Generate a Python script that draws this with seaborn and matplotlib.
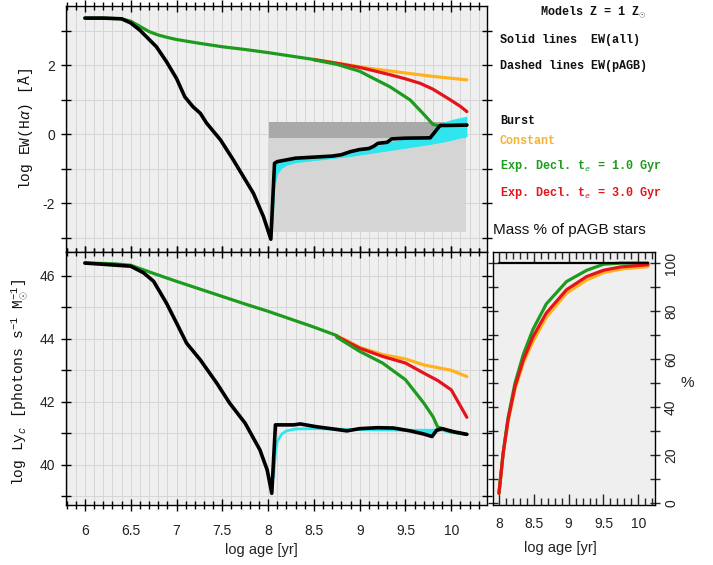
import numpy as np
import matplotlib
matplotlib.use("Agg")
import matplotlib.pyplot as plt
import seaborn as sns
from matplotlib.ticker import MultipleLocator, FuncFormatter

sns.set_theme(style="white")
plt.rcParams['font.family'] = ['Liberation Sans', 'DejaVu Sans']
plt.rcParams['mathtext.fontset'] = 'custom'
plt.rcParams['mathtext.rm'] = 'Liberation Mono'
plt.rcParams['mathtext.it'] = 'Liberation Mono:italic'
plt.rcParams['mathtext.bf'] = 'Liberation Mono:bold'

# ---------------- data ----------------
# top panel: log EW(Halpha)
ew_common_age = [6.0, 6.2, 6.4, 6.5, 6.6, 6.7, 6.8, 6.9, 7.0, 7.25, 7.5, 7.75, 8.0, 8.25, 8.5]
ew_common = [3.36, 3.36, 3.34, 3.27, 3.12, 2.97, 2.87, 2.80, 2.74, 2.63, 2.53, 2.45, 2.36, 2.26, 2.16]

ew_const_age = [8.5, 8.75, 9.0, 9.115, 9.5, 9.8, 10.17]
ew_const = [2.16, 2.06, 1.95, 1.90, 1.77, 1.67, 1.57]
ew_exp3_age = [8.5, 8.75, 9.0, 9.115, 9.33, 9.5, 9.66, 9.8, 9.99, 10.1, 10.17]
ew_exp3 = [2.16, 2.05, 1.93, 1.86, 1.72, 1.60, 1.47, 1.30, 0.99, 0.80, 0.65]
ew_exp1_age = [8.5, 8.75, 9.0, 9.115, 9.33, 9.55, 9.69, 9.8, 9.86, 10.0, 10.17]
ew_exp1 = [2.15, 2.02, 1.82, 1.66, 1.37, 0.99, 0.60, 0.28, 0.24, 0.25, 0.26]

ew_burst_age = [6.0, 6.2, 6.4, 6.5, 6.6, 6.69, 6.78, 6.89, 7.0, 7.09, 7.18, 7.26, 7.33, 7.48,
                7.62, 7.84, 7.95, 8.03, 8.07, 8.1, 8.2, 8.3, 8.5, 8.7, 8.8, 8.9, 9.0, 9.1,
                9.15, 9.2, 9.3, 9.35, 9.5, 9.77, 9.86, 9.88, 10.0, 10.17]
ew_burst = [3.36, 3.36, 3.34, 3.22, 3.01, 2.77, 2.53, 2.10, 1.61, 1.08, 0.79, 0.60, 0.31, -0.17,
            -0.75, -1.72, -2.40, -3.05, -0.85, -0.80, -0.75, -0.70, -0.67, -0.64, -0.60, -0.51, -0.45, -0.42,
            -0.36, -0.27, -0.24, -0.14, -0.12, -0.11, 0.19, 0.25, 0.25, 0.26]

ew_pagb_age = [8.05, 8.07, 8.1, 8.15, 8.2, 8.3, 8.5, 8.7, 8.9, 9.1, 9.3, 9.5, 9.77, 9.83, 9.9, 10.0, 10.17]
ew_pagb_lo = [-2.6, -1.5, -1.15, -0.98, -0.9, -0.82, -0.76, -0.70, -0.64, -0.56, -0.48, -0.40, -0.29, -0.26, -0.23, -0.17, -0.06]
ew_pagb_hi = [-1.4, -0.88, -0.82, -0.78, -0.75, -0.71, -0.68, -0.64, -0.52, -0.42, -0.24, -0.13, -0.11, 0.31, 0.33, 0.42, 0.52]

band_age = [8.01, 10.16]
dark_band_lo = [-0.12, -0.12]
dark_band_hi = [0.36, 0.36]
light_box_lo = [-2.83, -2.83]
light_box_hi = [-0.12, -0.12]

# bottom panel: log Lyc
lyc_common_age = [6.0, 6.3, 6.5, 6.75, 7.0, 7.25, 7.5, 7.75, 8.0, 8.25, 8.5, 8.75]
lyc_common = [46.4, 46.38, 46.33, 46.07, 45.82, 45.58, 45.34, 45.1, 44.87, 44.62, 44.37, 44.1]
lyc_const_age = [8.75, 9.0, 9.25, 9.5, 9.7, 10.0, 10.17]
lyc_const = [44.1, 43.73, 43.5, 43.36, 43.17, 43.0, 42.8]
lyc_exp3_age = [8.75, 9.0, 9.25, 9.5, 9.7, 9.85, 10.0, 10.17]
lyc_exp3 = [44.08, 43.7, 43.44, 43.23, 42.91, 42.68, 42.38, 41.51]
lyc_exp1_age = [8.75, 9.0, 9.25, 9.5, 9.7, 9.8, 9.85, 9.9, 10.0, 10.17]
lyc_exp1 = [44.05, 43.6, 43.23, 42.7, 41.96, 41.53, 41.21, 41.15, 41.05, 40.97]

lyc_burst_age = [6.0, 6.5, 6.64, 6.75, 6.89, 7.0, 7.11, 7.26, 7.44, 7.58, 7.75, 7.91, 7.99, 8.04,
                 8.08, 8.28, 8.35, 8.53, 8.71, 8.86, 9.0, 9.19, 9.37, 9.55, 9.7, 9.79, 9.84,
                 9.9, 10.03, 10.17]
lyc_burst = [46.4, 46.3, 46.09, 45.82, 45.13, 44.5, 43.86, 43.33, 42.59, 41.96, 41.32, 40.48, 39.84, 39.1,
             41.27, 41.27, 41.3, 41.21, 41.14, 41.08, 41.15, 41.18, 41.17, 41.08, 40.98, 40.9, 41.1,
             41.15, 41.05, 40.97]

lyc_pagb_age = [8.06, 8.08, 8.1, 8.15, 8.2, 8.3, 8.5, 9.0, 9.5, 9.7, 9.8, 9.85, 9.9, 10.0, 10.17]
lyc_pagb = [39.6, 40.4, 40.75, 40.98, 41.08, 41.14, 41.15, 41.12, 41.1, 41.1, 41.1, 41.12, 41.1, 41.03, 40.97]
lyc_gap_age = [9.45, 9.55, 9.7, 9.79, 9.84, 9.9]
lyc_gap_lo = [41.1, 41.07, 40.98, 40.9, 41.05, 41.1]
lyc_gap_hi = [41.12, 41.12, 41.12, 41.12, 41.12, 41.12]

# right panel: mass % of pAGB stars
mass_age = [8.0, 8.06, 8.13, 8.23, 8.35, 8.49, 8.68, 8.97, 9.26, 9.5, 9.75, 10.14]
mass_const = [4.0, 20.5, 34.0, 47.5, 58.5, 67.5, 77.5, 87.5, 93.0, 96.0, 97.5, 98.5]
mass_exp3 = [4.2, 20.8, 34.7, 48.6, 59.7, 69.4, 79.2, 88.9, 94.4, 97.0, 98.4, 99.3]
mass_exp1 = [4.2, 21.0, 35.5, 50.0, 62.0, 72.5, 83.0, 92.3, 97.0, 99.5, 100.0, 100.0]
mass_burst_age = [8.0, 10.14]
mass_burst = [100.0, 100.0]

xticks_main = [6, 6.5, 7, 7.5, 8, 8.5, 9, 9.5, 10]
xticks_right = [8, 8.5, 9, 9.5, 10]

C_ORANGE = '#FFB21E'
C_GREEN = '#1E9A1E'
C_RED = '#E5141A'
C_CYAN = '#2FE6EE'
BG = '#efefef'
GRID = '#d6d6d6'

W, H = 713, 565
fig = plt.figure(figsize=(W / 100, H / 100), dpi=100)


def px_axes(x0, y0, x1, y1):
    return fig.add_axes([x0 / W, 1 - y1 / H, (x1 - x0) / W, (y1 - y0) / H])


ax1 = px_axes(65.7, 5.7, 487, 252)
ax2 = px_axes(65.7, 252, 487, 505)
ax3 = px_axes(492.7, 252, 655, 505)

fmt = FuncFormatter(lambda v, p: f"{v:g}")

for ax in (ax1, ax2, ax3):
    ax.set_facecolor(BG)
    for s in ax.spines.values():
        s.set_color('black')
        s.set_linewidth(1.0)
        s.set_zorder(10)

for ax in (ax1, ax2):
    ax.set_xlim(5.79, 10.39)
    ax.xaxis.set_major_locator(MultipleLocator(0.5))
    ax.xaxis.set_minor_locator(MultipleLocator(0.1))
    ax.yaxis.set_minor_locator(MultipleLocator(1))
    ax.grid(which='both', axis='x', color=GRID, lw=0.7)
    ax.grid(which='both', axis='y', color=GRID, lw=0.7)
    ax.set_axisbelow(True)
    ax.tick_params(axis='x', which='major', direction='inout', length=9, width=1,
                   top=True, bottom=True, colors='black')
    ax.tick_params(axis='x', which='minor', direction='inout', length=6, width=1,
                   top=True, bottom=True, colors='black')
    ax.tick_params(axis='y', which='both', direction='inout', length=7, width=1,
                   left=True, right=True, labelright=False, colors='black')
    ax.tick_params(axis='both', labelsize=10, labelcolor='#222222', pad=4)

ax1.set_ylim(-3.42, 3.72)
ax1.set_yticks([-2, 0, 2])
ax1.yaxis.set_major_formatter(fmt)
ax1.tick_params(axis='x', labelbottom=False)

ax2.set_ylim(38.73, 46.75)
ax2.set_yticks([40, 42, 44, 46])
ax2.set_xticks(xticks_main)
ax2.xaxis.set_major_formatter(fmt)
ax2.tick_params(axis='x', pad=9)

# ---- top panel ----
ax1.fill_between(band_age, light_box_lo, light_box_hi, color='#d5d5d5', lw=0, zorder=1)
ax1.fill_between(band_age, dark_band_lo, dark_band_hi, color='#a9a9a9', lw=0, zorder=1)
ax1.fill_between(ew_pagb_age, ew_pagb_lo, ew_pagb_hi, color=C_CYAN, lw=0, zorder=2)
ax1.plot(ew_pagb_age, ew_pagb_lo, color=C_CYAN, lw=1.2, zorder=2)

lw = 2.3
for a, v, c in [(ew_const_age, ew_const, C_ORANGE), (ew_exp3_age, ew_exp3, C_RED),
                (ew_common_age, ew_common, C_GREEN), (ew_exp1_age, ew_exp1, C_GREEN)]:
    sns.lineplot(x=a, y=v, ax=ax1, color=c, lw=lw, estimator=None, sort=False, zorder=3)
sns.lineplot(x=ew_burst_age, y=ew_burst, ax=ax1, color='black', lw=2.6, estimator=None,
             sort=False, zorder=4)

# ---- bottom panel ----
ax2.fill_between(lyc_gap_age, lyc_gap_lo, lyc_gap_hi, color=C_CYAN, lw=0, zorder=2)
sns.lineplot(x=lyc_pagb_age, y=lyc_pagb, ax=ax2, color=C_CYAN, lw=2.0, estimator=None,
             sort=False, zorder=2)
for a, v, c in [(lyc_const_age, lyc_const, C_ORANGE), (lyc_exp3_age, lyc_exp3, C_RED),
                (lyc_common_age, lyc_common, C_GREEN), (lyc_exp1_age, lyc_exp1, C_GREEN)]:
    sns.lineplot(x=a, y=v, ax=ax2, color=c, lw=lw, estimator=None, sort=False, zorder=3)
sns.lineplot(x=lyc_burst_age, y=lyc_burst, ax=ax2, color='black', lw=2.6, estimator=None,
             sort=False, zorder=4)

# ---- right panel ----
ax3.set_xlim(7.91, 10.24)
ax3.set_ylim(-0.7, 104.6)
ax3.set_xticks(xticks_right)
ax3.xaxis.set_major_formatter(fmt)
ax3.xaxis.set_minor_locator(MultipleLocator(0.1))
ax3.set_yticks([0, 20, 40, 60, 80, 100])
ax3.yaxis.set_minor_locator(MultipleLocator(10))
ax3.yaxis.tick_right()
ax3.tick_params(axis='x', which='major', direction='in', length=8, width=1, top=True,
                bottom=True, pad=9, labelsize=10, labelcolor='#222222')
ax3.tick_params(axis='x', which='minor', direction='in', length=5, width=1, top=True, bottom=True)
ax3.tick_params(axis='y', which='both', direction='inout', length=7, width=1, left=True,
                right=True, labelleft=False, labelright=True, labelsize=10,
                labelcolor='#222222', pad=3)
for t in ax3.get_yticklabels():
    t.set_rotation(90)
    t.set_va('center')
    t.set_ha('left')

for v, c in [(mass_const, C_ORANGE), (mass_exp1, C_GREEN), (mass_exp3, C_RED)]:
    sns.lineplot(x=mass_age, y=v, ax=ax3, color=c, lw=lw, estimator=None, sort=False, zorder=3)
sns.lineplot(x=mass_burst_age, y=mass_burst, ax=ax3, color='black', lw=1.6, estimator=None,
             sort=False, zorder=4)

for ax in (ax1, ax2, ax3):
    ax.set_xlabel('')
    ax.set_ylabel('')

# ---- labels ----
MONO = ['Liberation Mono', 'DejaVu Sans Mono']
fig.text(25.5 / W, 1 - 129 / H, "log EW(H$\\alpha$) [Å]", rotation=90, ha='center',
         va='center', family=MONO, fontsize=10.5, color='#111111')
fig.text(20 / W, 1 - 383 / H, "log Ly$_c$ [photons s$^{-1}$ M$_{\\odot}^{-1}$]", rotation=90,
         ha='center', va='center', family=MONO, fontsize=10.5, color='#111111')
fig.text(261 / W, 1 - 550 / H, "log age [yr]", ha='center', va='center', fontsize=10.5,
         color='#222222')
fig.text(560 / W, 1 - 548 / H, "log age [yr]", ha='center', va='center', fontsize=10.5,
         color='#222222')
fig.text(687 / W, 1 - 383 / H, "%", ha='center', va='center', fontsize=11, color='#222222')
fig.text(493.3 / W, 1 - 230 / H, "Mass % of pAGB stars", ha='left', va='center',
         fontsize=11, color='#111111')

LEG = dict(family=MONO, fontsize=8.5, fontweight='bold', ha='left', va='center')
fig.text(540 / W, 1 - 12 / H, "Models Z = 1 Z$_{\\odot}$", color='#111111', **LEG)
fig.text(500 / W, 1 - 39.5 / H, "Solid lines  EW(all)", color='#111111', **LEG)
fig.text(500 / W, 1 - 66 / H, "Dashed lines EW(pAGB)", color='#111111', **LEG)
fig.text(500 / W, 1 - 120.5 / H, "Burst", color='#111111', **LEG)
fig.text(500 / W, 1 - 141 / H, "Constant", color='#F5B335', **LEG)
fig.text(500 / W, 1 - 166 / H, "Exp. Decl. t$_e$ = 1.0 Gyr", color=C_GREEN, **LEG)
fig.text(500 / W, 1 - 193 / H, "Exp. Decl. t$_e$ = 3.0 Gyr", color=C_RED, **LEG)

fig.savefig("out.png", dpi=100)
